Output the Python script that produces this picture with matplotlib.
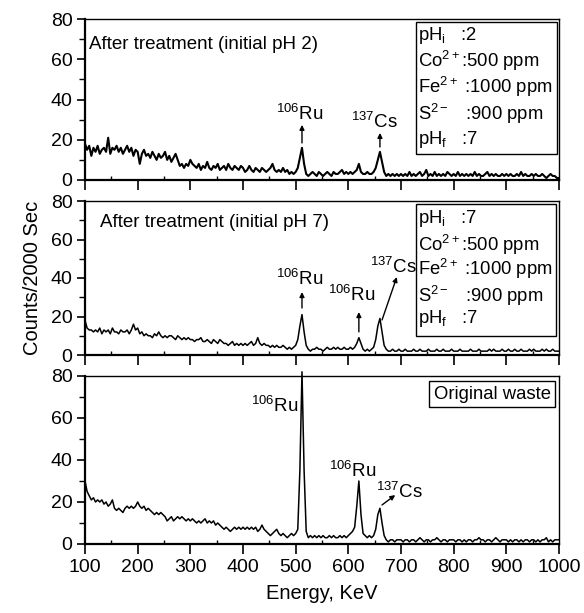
import numpy as np
import matplotlib
matplotlib.use("Agg")
import matplotlib.pyplot as plt
from matplotlib.patches import Rectangle
from matplotlib.ticker import MultipleLocator

plt.rcParams['font.family'] = ['Liberation Sans', 'DejaVu Sans']
plt.rcParams['mathtext.fontset'] = 'custom'
plt.rcParams['mathtext.rm'] = 'Liberation Sans'
plt.rcParams['mathtext.it'] = 'Liberation Sans:italic'

# channel energies (keV), 4 keV per channel
energy = np.arange(100, 1001, 4)

# after treatment, initial pH 2
counts_ph2 = [
    18, 15, 17, 12, 16, 14, 17, 13, 15, 16, 14, 21, 13, 16, 15, 17, 14, 16, 13, 15, 17, 14, 16, 12, 15,
    14, 8, 13, 15, 12, 13, 11, 14, 12, 10, 13, 11, 12, 14, 10, 12, 9, 11, 13, 10, 7, 8, 6, 8, 7,
    10, 8, 7, 6, 8, 5, 7, 6, 9, 6, 5, 7, 6, 8, 5, 6, 7, 5, 8, 6, 5, 7, 6, 5, 7,
    6, 4, 5, 7, 5, 4, 6, 5, 4, 6, 5, 4, 5, 6, 8, 5, 4, 5, 4, 6, 4, 5, 3, 4, 3,
    4, 6, 11, 16, 8, 3, 2, 3, 4, 3, 2, 4, 3, 2, 3, 4, 3, 2, 4, 3, 3, 4, 5, 3, 4,
    3, 4, 3, 4, 5, 8, 4, 3, 3, 4, 3, 3, 4, 6, 10, 14, 9, 4, 2, 3, 2, 3, 2, 3, 2,
    3, 2, 3, 2, 4, 2, 3, 2, 3, 4, 2, 3, 5, 2, 3, 2, 4, 2, 3, 2, 3, 2, 4, 3, 2,
    3, 2, 4, 2, 3, 2, 3, 2, 3, 2, 4, 2, 3, 2, 2, 3, 4, 2, 3, 2, 3, 2, 2, 3, 2,
    3, 2, 3, 2, 2, 3, 2, 4, 2, 3, 2, 2, 3, 2, 3, 2, 2, 3, 2, 1, 2, 3, 2, 2, 1,
    1,
]

# after treatment, initial pH 7
counts_ph7 = [
    18, 14, 13, 13, 12, 13, 12, 14, 11, 13, 12, 13, 11, 14, 12, 12, 11, 13, 12, 12, 13, 11, 13, 16, 13,
    14, 11, 12, 10, 11, 10, 10, 9, 11, 10, 12, 10, 9, 10, 9, 10, 10, 9, 8, 10, 9, 8, 9, 8, 9,
    8, 8, 7, 8, 8, 9, 7, 7, 8, 7, 6, 8, 7, 6, 8, 7, 6, 6, 5, 6, 7, 5, 6, 5, 6,
    5, 6, 5, 6, 7, 5, 6, 9, 6, 5, 6, 5, 5, 4, 5, 4, 5, 4, 4, 5, 4, 3, 4, 3, 4,
    5, 8, 15, 21, 12, 5, 3, 2, 3, 3, 4, 3, 3, 2, 3, 4, 3, 3, 4, 3, 4, 3, 3, 4, 3,
    3, 4, 3, 4, 6, 9, 6, 3, 2, 3, 2, 3, 4, 8, 15, 19, 12, 5, 3, 2, 2, 3, 2, 2, 3,
    2, 2, 3, 2, 2, 2, 3, 2, 2, 3, 2, 2, 2, 3, 2, 2, 2, 3, 2, 2, 3, 2, 2, 2, 3,
    2, 2, 2, 3, 2, 2, 2, 2, 3, 2, 2, 2, 3, 2, 2, 2, 2, 3, 2, 3, 2, 2, 2, 3, 2,
    2, 3, 2, 2, 3, 2, 2, 3, 2, 2, 2, 3, 2, 3, 2, 2, 2, 3, 2, 3, 2, 2, 3, 2, 2,
    2,
]

# original waste
counts_orig = [
    30, 25, 23, 21, 22, 20, 21, 20, 21, 19, 20, 18, 19, 21, 17, 16, 17, 16, 15, 17, 18, 17, 18, 17, 18,
    20, 18, 17, 18, 16, 17, 16, 15, 14, 15, 14, 15, 14, 13, 11, 12, 13, 11, 12, 13, 12, 13, 12, 11, 12,
    11, 12, 11, 10, 11, 10, 11, 12, 10, 11, 10, 11, 9, 10, 9, 8, 7, 8, 7, 6, 7, 8, 7, 8, 7,
    8, 7, 8, 7, 8, 7, 8, 6, 7, 9, 7, 6, 5, 4, 5, 6, 7, 5, 4, 5, 4, 3, 4, 5, 4,
    5, 7, 35, 82, 35, 6, 3, 4, 3, 4, 3, 4, 3, 4, 3, 3, 4, 3, 4, 3, 3, 4, 3, 4, 3,
    4, 5, 6, 8, 18, 30, 14, 5, 4, 3, 4, 3, 4, 7, 14, 17, 10, 4, 2, 1, 2, 2, 1, 2, 2,
    2, 1, 2, 2, 1, 2, 2, 1, 2, 3, 2, 1, 2, 2, 1, 2, 2, 3, 2, 1, 2, 2, 1, 2, 2,
    2, 1, 2, 2, 1, 2, 1, 2, 2, 1, 2, 2, 3, 2, 2, 1, 2, 2, 1, 2, 3, 2, 1, 2, 2,
    2, 1, 2, 1, 2, 2, 1, 2, 1, 2, 2, 1, 2, 2, 1, 2, 1, 2, 2, 3, 1, 2, 1, 2, 2,
    2,
]

box_lines_ph2 = [r'pH$_\mathregular{i}$   :2', r'Co$^{2+}$:500 ppm', r'Fe$^{2+}$ :1000 ppm',
                 r'S$^{2-}$   :900 ppm', r'pH$_\mathregular{f}$   :7']
box_lines_ph7 = [r'pH$_\mathregular{i}$   :7', r'Co$^{2+}$:500 ppm', r'Fe$^{2+}$ :1000 ppm',
                 r'S$^{2-}$   :900 ppm', r'pH$_\mathregular{f}$   :7']

W, H = 584, 613
fig = plt.figure(figsize=(W / 100, H / 100), dpi=100)
LBL = 13.5   # peak labels / panel titles


def make_axes(top, bottom):
    ax = fig.add_axes([85 / W, (H - bottom) / H, 474 / W, (bottom - top) / H])
    ax.set_xlim(100, 1000)
    ax.set_ylim(0, 80)
    ax.xaxis.set_major_locator(MultipleLocator(100))
    ax.xaxis.set_minor_locator(MultipleLocator(50))
    ax.yaxis.set_major_locator(MultipleLocator(20))
    ax.yaxis.set_minor_locator(MultipleLocator(10))
    ax.tick_params(axis='x', which='major', direction='out', length=7, width=1.2, labelsize=14)
    ax.tick_params(axis='x', which='minor', direction='in', length=3, width=1)
    ax.tick_params(axis='y', which='major', direction='out', length=6, width=1.2, labelsize=14, pad=3)
    ax.tick_params(axis='y', which='minor', direction='out', length=4, width=1)
    for s in ax.spines.values():
        s.set_linewidth(1.0)
    ax.spines['left'].set_linewidth(1.6)
    ax.spines['bottom'].set_linewidth(1.6)
    return ax


def arrow(ax, x0, y0, x1, y1):
    ax.annotate('', xy=(x1, y1), xytext=(x0, y0),
                arrowprops=dict(arrowstyle='-|>', color='black', lw=1.0,
                                mutation_scale=7, shrinkA=0, shrinkB=0))


def info_box(ax, x0, y0, x1, y1, lines, ys):
    ax.add_patch(Rectangle((x0, y0), x1 - x0, y1 - y0, fill=False, lw=1.0, ec='black'))
    for t, y in zip(lines, ys):
        ax.text(x0 + 5, y, t, fontsize=13.3, va='center', ha='left')


# top panel
ax1 = make_axes(19, 180)
ax1.plot(energy, counts_ph2, color='black', lw=1.5)
ax1.tick_params(axis='x', labelbottom=False)
ax1.text(108, 67.5, 'After treatment (initial pH 2)', fontsize=LBL, va='center')
ax1.text(508, 30, r'$^{106}$Ru', fontsize=LBL, ha='center', va='baseline')
ax1.text(649, 26, r'$^{137}$Cs', fontsize=LBL, ha='center', va='baseline')
arrow(ax1, 512, 18.4, 512, 27.4)
arrow(ax1, 660, 16.4, 660, 23.4)
info_box(ax1, 728, 12.9, 996, 78.5, box_lines_ph2, [72, 59, 46, 33, 20])

# middle panel
ax2 = make_axes(201, 355)
ax2.plot(energy, counts_ph7, color='black', lw=1.1)
ax2.tick_params(axis='x', labelbottom=False)
ax2.text(128, 68.6, 'After treatment (initial pH 7)', fontsize=LBL, va='center')
ax2.text(508, 36.4, r'$^{106}$Ru', fontsize=LBL, ha='center', va='baseline')
ax2.text(607, 28.2, r'$^{106}$Ru', fontsize=LBL, ha='center', va='baseline')
ax2.text(685, 42.6, r'$^{137}$Cs', fontsize=LBL, ha='center', va='baseline')
arrow(ax2, 512, 24.4, 512, 32.7)
arrow(ax2, 620, 12, 620, 22.3)
arrow(ax2, 664, 18.2, 692, 40.5)
info_box(ax2, 728, 9.9, 994, 78.4, box_lines_ph7, [71, 57, 44.7, 30.6, 19.2])
ax2.set_ylabel('Counts/2000 Sec', fontsize=14.5, labelpad=6)

# bottom panel
ax3 = make_axes(376, 544)
ax3.plot(energy, counts_orig, color='black', lw=1.1, clip_on=False)
ax3.text(461, 62.9, r'$^{106}$Ru', fontsize=LBL, ha='center', va='baseline')
ax3.text(609, 31.9, r'$^{106}$Ru', fontsize=LBL, ha='center', va='baseline')
ax3.text(696, 21.9, r'$^{137}$Cs', fontsize=LBL, ha='center', va='baseline')
arrow(ax3, 664, 18.6, 689, 23.3)
ax3.text(873, 71.4, 'Original waste', fontsize=13.3, ha='center', va='center',
         bbox=dict(boxstyle='square,pad=0.25', fc='white', ec='black', lw=1.0))
ax3.set_xlabel('Energy, KeV', fontsize=14.5, labelpad=6)

fig.savefig('out.png', dpi=100)
